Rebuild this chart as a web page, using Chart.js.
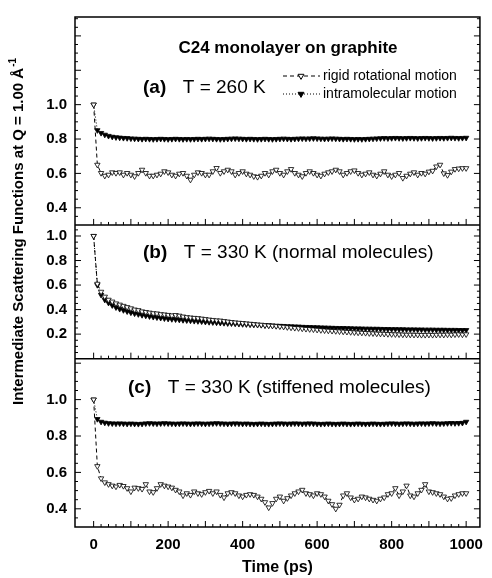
<!DOCTYPE html>
<html>
<head>
<meta charset="utf-8">
<script src="https://cdn.jsdelivr.net/npm/chart.js@4.4.0/dist/chart.umd.min.js"></script>
<style>
  html, body { margin: 0; padding: 0; background: #fff; }
  #wrap { position: relative; width: 492px; height: 578px; }
</style>
</head>
<body>
<div id="wrap"><canvas id="chart" width="492" height="578"></canvas></div>
<script>
// time axis (ps)
const times = [0,10,20,30,40,50,60,70,80,90,100,110,120,130,140,150,160,170,180,190,200,
  210,220,230,240,250,260,270,280,290,300,310,320,330,340,350,360,370,380,390,400,
  410,420,430,440,450,460,470,480,490,500,510,520,530,540,550,560,570,580,590,600,
  610,620,630,640,650,660,670,680,690,700,710,720,730,740,750,760,770,780,790,800,
  810,820,830,840,850,860,870,880,890,900,910,920,930,940,950,960,970,980,990,1000];

// (a) T = 260 K
const rigidA = [1.0,0.650,0.602,0.586,0.592,0.606,0.602,0.606,0.592,0.602,0.592,
  0.583,0.602,0.621,0.602,0.586,0.586,0.592,0.598,0.612,0.606,
  0.592,0.586,0.598,0.602,0.586,0.563,0.592,0.606,0.602,0.592,
  0.592,0.612,0.631,0.602,0.612,0.621,0.612,0.592,0.602,0.612,
  0.598,0.592,0.583,0.579,0.586,0.602,0.592,0.612,0.621,0.602,
  0.592,0.612,0.625,0.602,0.592,0.583,0.602,0.612,0.602,0.592,
  0.586,0.598,0.606,0.612,0.621,0.612,0.592,0.602,0.612,0.617,
  0.602,0.592,0.598,0.606,0.592,0.586,0.598,0.612,0.592,0.583,
  0.592,0.602,0.573,0.586,0.598,0.606,0.592,0.602,0.598,0.610,
  0.615,0.640,0.650,0.600,0.590,0.610,0.625,0.628,0.630,0.630];
const intraA = [1.0,0.851,0.835,0.825,0.818,0.813,0.810,0.808,0.806,0.805,0.803,
  0.802,0.801,0.800,0.801,0.800,0.799,0.800,0.801,0.800,0.799,
  0.800,0.801,0.800,0.799,0.800,0.799,0.800,0.801,0.800,0.801,
  0.802,0.801,0.800,0.799,0.800,0.801,0.802,0.803,0.802,0.801,
  0.800,0.801,0.800,0.799,0.800,0.801,0.800,0.799,0.800,0.801,
  0.802,0.801,0.800,0.801,0.802,0.803,0.802,0.803,0.804,0.803,
  0.802,0.801,0.802,0.803,0.802,0.801,0.800,0.801,0.800,0.799,
  0.800,0.799,0.800,0.801,0.802,0.803,0.804,0.805,0.804,0.805,
  0.806,0.805,0.804,0.805,0.806,0.805,0.804,0.805,0.806,0.805,
  0.804,0.805,0.806,0.805,0.806,0.807,0.806,0.805,0.806,0.807];

// (b) T = 330 K, normal molecules
const rigidB = [1.0,0.610,0.545,0.505,0.480,0.465,0.450,0.440,0.430,0.420,0.410,
  0.400,0.395,0.385,0.380,0.375,0.370,0.368,0.362,0.360,0.356,
  0.352,0.355,0.350,0.343,0.338,0.335,0.332,0.330,0.326,0.322,
  0.318,0.315,0.312,0.310,0.306,0.302,0.298,0.295,0.292,0.290,
  0.287,0.284,0.281,0.278,0.276,0.272,0.270,0.268,0.265,0.262,
  0.260,0.256,0.253,0.250,0.248,0.245,0.242,0.240,0.238,0.235,
  0.232,0.230,0.228,0.226,0.224,0.222,0.220,0.218,0.216,0.214,
  0.212,0.211,0.209,0.207,0.206,0.204,0.203,0.202,0.200,0.199,
  0.198,0.197,0.196,0.195,0.195,0.194,0.194,0.193,0.193,0.194,
  0.193,0.194,0.195,0.194,0.196,0.195,0.197,0.198,0.196,0.198];
const intraB = [1.0,0.600,0.520,0.480,0.455,0.435,0.418,0.405,0.395,0.385,0.376,
  0.368,0.362,0.355,0.350,0.345,0.340,0.336,0.332,0.328,0.325,
  0.322,0.320,0.317,0.314,0.312,0.310,0.307,0.305,0.303,0.300,
  0.298,0.296,0.294,0.292,0.290,0.288,0.287,0.285,0.283,0.281,
  0.280,0.278,0.277,0.275,0.274,0.272,0.271,0.270,0.268,0.267,
  0.266,0.264,0.263,0.262,0.261,0.259,0.258,0.257,0.256,0.255,
  0.254,0.253,0.252,0.251,0.250,0.249,0.249,0.248,0.247,0.246,
  0.246,0.245,0.244,0.244,0.243,0.243,0.242,0.241,0.241,0.240,
  0.240,0.239,0.239,0.238,0.238,0.238,0.237,0.237,0.236,0.236,
  0.236,0.235,0.235,0.235,0.234,0.234,0.234,0.233,0.233,0.233];

// (c) T = 330 K, stiffened molecules
const rigidC = [1.0,0.634,0.567,0.545,0.535,0.527,0.522,0.531,0.525,0.513,0.495,
  0.516,0.513,0.509,0.535,0.495,0.491,0.513,0.535,0.527,0.522,
  0.516,0.504,0.495,0.473,0.485,0.476,0.495,0.485,0.480,0.491,
  0.498,0.485,0.495,0.476,0.462,0.485,0.491,0.485,0.473,0.467,
  0.476,0.480,0.476,0.467,0.455,0.436,0.407,0.431,0.455,0.467,
  0.444,0.458,0.473,0.485,0.495,0.504,0.485,0.480,0.473,0.485,
  0.480,0.467,0.444,0.425,0.400,0.422,0.473,0.485,0.462,0.449,
  0.455,0.467,0.462,0.455,0.449,0.444,0.455,0.462,0.480,0.485,
  0.513,0.473,0.495,0.527,0.473,0.467,0.485,0.504,0.535,0.495,
  0.491,0.485,0.480,0.467,0.455,0.458,0.473,0.480,0.485,0.485];
const intraC = [1.0,0.893,0.878,0.873,0.870,0.869,0.868,0.869,0.868,0.867,0.868,
  0.867,0.866,0.867,0.869,0.870,0.869,0.868,0.869,0.870,0.869,
  0.868,0.867,0.868,0.869,0.868,0.867,0.868,0.869,0.868,0.867,
  0.868,0.869,0.870,0.869,0.868,0.867,0.868,0.869,0.868,0.867,
  0.868,0.867,0.866,0.867,0.868,0.867,0.866,0.867,0.868,0.869,
  0.868,0.867,0.868,0.869,0.868,0.867,0.868,0.869,0.868,0.867,
  0.866,0.867,0.868,0.867,0.866,0.867,0.868,0.867,0.866,0.867,
  0.868,0.867,0.866,0.867,0.868,0.867,0.866,0.867,0.868,0.869,
  0.868,0.867,0.868,0.869,0.868,0.867,0.868,0.869,0.868,0.869,
  0.870,0.869,0.868,0.869,0.870,0.871,0.870,0.871,0.872,0.878];

const xTicks = [0, 200, 400, 600, 800, 1000];
const yTicksA = [0.4, 0.6, 0.8, 1.0];
const yTicksB = [0.2, 0.4, 0.6, 0.8, 1.0];
const yTicksC = [0.4, 0.6, 0.8, 1.0];

const FONT = '"Liberation Sans", Arial, Helvetica, sans-serif';

const pts = (arr) => times.map((t, i) => ({ x: t, y: arr[i] }));

function rigidSet(arr, axis) {
  return {
    data: pts(arr), yAxisID: axis,
    borderColor: '#000', borderWidth: 1, borderDash: [4, 3],
    pointStyle: 'triangle', rotation: 180, pointRadius: 3.1,
    pointBackgroundColor: '#fff', pointBorderColor: '#000', pointBorderWidth: 0.8,
    tension: 0, order: 1
  };
}
function intraSet(arr, axis) {
  return {
    data: pts(arr), yAxisID: axis,
    borderColor: '#000', borderWidth: 1, borderDash: [1, 2],
    pointStyle: 'triangle', rotation: 180, pointRadius: 3.1,
    pointBackgroundColor: '#000', pointBorderColor: '#000', pointBorderWidth: 0.8,
    tension: 0, order: 2
  };
}

function yAxis(min, max, weight, ticks) {
  return {
    type: 'linear', position: 'left', stack: 'panels', stackWeight: weight,
    min, max,
    grid: { display: false, drawTicks: false }, border: { display: false },
    afterBuildTicks: (s) => { s.ticks = ticks.map(v => ({ value: v })); },
    afterFit: (s) => { s.width = 75; },
    ticks: { padding: 8, autoSkip: false, color: '#000', font: { family: FONT, size: 15, weight: 'bold' },
      callback: (v) => v.toFixed(1) }
  };
}

const panels = [
  { axis: 'ya', label: '(a)', text: 'T = 260 K', lx: 143, ly: 88 },
  { axis: 'yb', label: '(b)', text: 'T = 330 K (normal molecules)', lx: 143, ly: 253 },
  { axis: 'yc', label: '(c)', text: 'T = 330 K (stiffened molecules)', lx: 128, ly: 388 }
];

const framePlugin = {
  id: 'frame',
  afterDraw(chart) {
    const { ctx, chartArea: a, scales } = chart;
    const xs = scales.x;
    ctx.save();
    ctx.strokeStyle = '#000';
    ctx.fillStyle = '#000';
    const seg = (x1, y1, x2, y2) => { ctx.beginPath(); ctx.moveTo(x1, y1); ctx.lineTo(x2, y2); ctx.stroke(); };

    ctx.lineWidth = 1;
    panels.forEach(p => {
      const s = scales[p.axis];
      // y ticks, both sides, inward
      for (let k = Math.ceil(s.min * 20); k <= Math.floor(s.max * 20); k++) {
        const y = s.getPixelForValue(k / 20);
        if (y < s.top + 1 || y > s.bottom - 1) continue;
        const len = (k % 4 === 0) ? 6 : 3;
        seg(a.left, y, a.left + len, y);
        seg(a.right, y, a.right - len, y);
      }
      // x ticks at panel bottom, inward
      for (let t = 0; t <= 1000; t += 20) {
        const x = xs.getPixelForValue(t);
        const len = (t % 100 === 0) ? 6 : 3;
        seg(x, s.bottom, x, s.bottom - len);
      }
    });

    ctx.lineWidth = 1.5;
    ctx.strokeRect(a.left, a.top, a.right - a.left, a.bottom - a.top);
    seg(a.left, scales.ya.bottom, a.right, scales.ya.bottom);
    seg(a.left, scales.yb.bottom, a.right, scales.yb.bottom);

    // title
    ctx.textBaseline = 'middle';
    ctx.textAlign = 'center';
    ctx.font = 'bold 17px ' + FONT;
    ctx.fillText('C24 monolayer on graphite', 288, 48);

    // panel labels
    ctx.textAlign = 'left';
    panels.forEach(p => {
      ctx.font = 'bold 19px ' + FONT;
      ctx.fillText(p.label, p.lx, p.ly);
      const w = ctx.measureText(p.label + '  ').width;
      ctx.font = '19px ' + FONT;
      ctx.fillText(p.text, p.lx + w + 6, p.ly);
    });

    // legend
    const h = Chart.helpers;
    ctx.lineWidth = 1;
    ctx.font = '14px ' + FONT;
    [[76, [4, 3], '#fff', 'rigid rotational motion'], [94, [1, 2], '#000', 'intramolecular motion']]
      .forEach(([y, dash, fill, txt]) => {
        ctx.setLineDash(dash);
        seg(283, y, 320, y);
        ctx.setLineDash([]);
        ctx.fillStyle = fill;
        h.drawPoint(ctx, { pointStyle: 'triangle', radius: 3.4, rotation: 180, borderWidth: 0.8 }, 301, y);
        ctx.fillStyle = '#000';
        ctx.fillText(txt, 323, y);
      });

    // y axis title with superscript
    ctx.translate(19, 232);
    ctx.rotate(-Math.PI / 2);
    ctx.font = 'bold 15px ' + FONT;
    const main = 'Intermediate Scattering Functions at Q = 1.00 \u00C5';
    const w1 = ctx.measureText(main).width;
    ctx.font = 'bold 10px ' + FONT;
    const w2 = ctx.measureText('-1').width;
    const x0 = -(w1 + w2) / 2;
    ctx.font = 'bold 15px ' + FONT;
    ctx.fillText(main, x0, 0);
    ctx.font = 'bold 10px ' + FONT;
    ctx.fillText('-1', x0 + w1 + 1, -6);
    ctx.restore();
  }
};

new Chart(document.getElementById('chart'), {
  type: 'line',
  data: {
    datasets: [
      rigidSet(rigidA, 'ya'), intraSet(intraA, 'ya'),
      rigidSet(rigidB, 'yb'), intraSet(intraB, 'yb'),
      rigidSet(rigidC, 'yc'), intraSet(intraC, 'yc')
    ]
  },
  options: {
    responsive: false,
    animation: false,
    layout: { padding: { top: 12, right: 5, left: 0, bottom: 0 } },
    plugins: { legend: { display: false }, tooltip: { enabled: false } },
    scales: {
      x: {
        type: 'linear', min: -50, max: 1037,
        grid: { display: false, drawTicks: false }, border: { display: false },
        afterBuildTicks: (s) => { s.ticks = xTicks.map(v => ({ value: v })); },
        afterFit: (s) => { s.height = 51; },
        ticks: { padding: 9, autoSkip: false, color: '#000', font: { family: FONT, size: 15, weight: 'bold' },
          callback: (v) => String(v) },
        title: { display: true, text: 'Time (ps)', color: '#000', padding: { top: 0, bottom: 1 },
          font: { family: FONT, size: 16, weight: 'bold' } }
      },
      yc: yAxis(0.3, 1.225, 170, yTicksC),
      yb: yAxis(0.0, 1.09, 135, yTicksB),
      ya: yAxis(0.3, 1.51, 210, yTicksA)
    }
  },
  plugins: [framePlugin]
});
</script>
</body>
</html>
